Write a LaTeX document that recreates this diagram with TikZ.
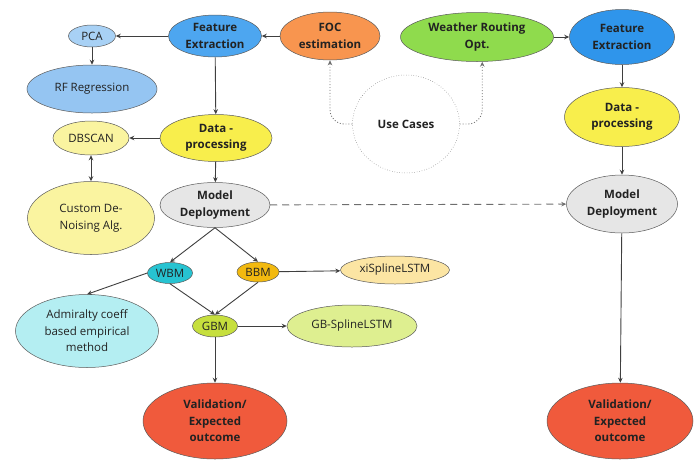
\documentclass[tikz,border=0pt]{standalone}
\usepackage{fontspec}
\setmainfont{Open Sans}
\usepackage{xcolor}
\usepackage{tikz}
\usetikzlibrary{shapes.geometric, arrows.meta, positioning}

\definecolor{linegray}{HTML}{3F3F3F}
\definecolor{edgegray}{HTML}{5A5A5A}
\definecolor{dashgray}{HTML}{6E6E6E}
\definecolor{textdark}{HTML}{222222}
\definecolor{featblue}{HTML}{4DA6F0}
\definecolor{featbluedark}{HTML}{2F95EB}
\definecolor{pcablue}{HTML}{A8D1F5}
\definecolor{rfblue}{HTML}{95C5F2}
\definecolor{focorange}{HTML}{F8954F}
\definecolor{procyellow}{HTML}{F8EE4C}
\definecolor{paleyellow}{HTML}{FAF4A0}
\definecolor{deploygray}{HTML}{E6E6E6}
\definecolor{wbmteal}{HTML}{27C3D1}
\definecolor{bbmamber}{HTML}{F2B90F}
\definecolor{xipeach}{HTML}{FCE5A3}
\definecolor{admcyan}{HTML}{B4EEF2}
\definecolor{gbmlime}{HTML}{C6DF3D}
\definecolor{gbpale}{HTML}{DEEF90}
\definecolor{validred}{HTML}{F05A3C}
\definecolor{routegreen}{HTML}{8FDB4D}

\tikzstyle{arrow} = [line width=0.9pt, draw=linegray, -{Stealth[length=5pt,width=4.5pt]}]
\tikzstyle{stage} = [ellipse, draw=edgegray, line width=0.5pt, inner sep=0pt, align=center, text=textdark, font=\fontsize{11.5}{16.5}\selectfont]
\tikzstyle{keystage} = [stage, font=\fontsize{11.5}{16.5}\selectfont\bfseries]

\begin{document}
\begin{tikzpicture}[x=1pt, y=-1pt]
\useasboundingbox (0,0) rectangle (694,459);

% left pipeline
\node[keystage, fill=featblue, minimum width=93pt, minimum height=42pt] (featL) at (215,36) {Feature\\Extraction};
\node[keystage, fill=focorange, minimum width=100pt, minimum height=48pt] (foc) at (330,36) {FOC\\estimation};
\node[stage, fill=pcablue, minimum width=47pt, minimum height=22pt] (pca) at (92,36) {PCA};
\node[stage, fill=rfblue, minimum width=130pt, minimum height=48pt] (rf) at (92,89) {RF Regression};
\node[keystage, fill=procyellow, minimum width=112pt, minimum height=47pt] (procL) at (216,138) {Data -\\processing};
\node[stage, fill=paleyellow, minimum width=76pt, minimum height=34pt] (dbscan) at (91,138) {DBSCAN};
\node[stage, fill=paleyellow, minimum width=127pt, minimum height=73pt] (denoise) at (91,218) {Custom De-\\Noising Alg.};
\node[keystage, fill=deploygray, minimum width=110pt, minimum height=45pt] (deployL) at (215,205) {Model\\Deployment};
\node[stage, fill=wbmteal, minimum width=45pt, minimum height=21pt] (wbm) at (170,273) {WBM};
\node[stage, fill=bbmamber, minimum width=42pt, minimum height=20pt] (bbm) at (258,272) {BBM};
\node[stage, fill=xipeach, minimum width=109pt, minimum height=28pt] (xispline) at (395,270) {xiSplineLSTM};
\node[stage, fill=admcyan, minimum width=143pt, minimum height=73pt] (admiralty) at (87,331) {Admiralty coeff\\based empirical\\method};
\node[stage, fill=gbmlime, minimum width=45pt, minimum height=22pt] (gbm) at (215,326) {GBM};
\node[stage, fill=gbpale, minimum width=130pt, minimum height=42pt] (gbspline) at (352,326) {GB-SplineLSTM};
\node[keystage, fill=validred, minimum width=144pt, minimum height=76pt] (validL) at (215,421) {Validation/\\Expected\\outcome};

% use cases and right pipeline
\node[keystage, draw=dashgray, dotted, fill=white, minimum width=107pt, minimum height=98pt] (usecases) at (406,124) {Use Cases};
\node[keystage, fill=routegreen, minimum width=153pt, minimum height=49pt] (routing) at (477,37) {Weather Routing\\Opt.};
\node[keystage, fill=featbluedark, minimum width=105pt, minimum height=55pt] (featR) at (622,37) {Feature\\Extraction};
\node[keystage, fill=procyellow, minimum width=115pt, minimum height=59pt] (procR) at (622,117) {Data -\\processing};
\node[keystage, fill=deploygray, minimum width=111pt, minimum height=58pt] (deployR) at (622,204) {Model\\Deployment};
\node[keystage, fill=validred, minimum width=146pt, minimum height=76pt] (validR) at (620,421) {Validation/\\Expected\\outcome};

% connectors
\draw[arrow] (foc) -- (featL);
\draw[arrow] (featL) -- (pca);
\draw[arrow] (pca) -- (rf);
\draw[arrow] (featL) -- (procL);
\draw[arrow] (procL) -- (dbscan);
\draw[line width=0.9pt, draw=linegray, {Stealth[length=5pt,width=4.5pt]}-{Stealth[length=5pt,width=4.5pt]}] (dbscan) -- (denoise);
\draw[arrow] (procL) -- (deployL);
\draw[arrow] (deployL.south) -- (wbm.north);
\draw[arrow] (deployL.south) -- (bbm.north);
\draw[arrow] (wbm.west) -- (admiralty.north);
\draw[arrow] (wbm.south) -- (gbm.north);
\draw[arrow] (bbm.south) -- (gbm.north);
\draw[arrow] (bbm) -- (xispline);
\draw[arrow] (gbm) -- (gbspline);
\draw[arrow] (gbm) -- (validL);
\draw[arrow, draw=dashgray, dash pattern=on 7pt off 5pt] (deployL) -- (deployR);
\draw[arrow, draw=dashgray, dotted, rounded corners=14pt] (usecases.west) -| (foc.south);
\draw[arrow, draw=dashgray, dotted, rounded corners=14pt] (usecases.east) -| (routing.282);
\draw[arrow] (routing) -- (featR);
\draw[arrow] (featR) -- (procR);
\draw[arrow] (procR) -- (deployR);
\draw[arrow] (deployR) -- (validR);

\end{tikzpicture}
\end{document}
